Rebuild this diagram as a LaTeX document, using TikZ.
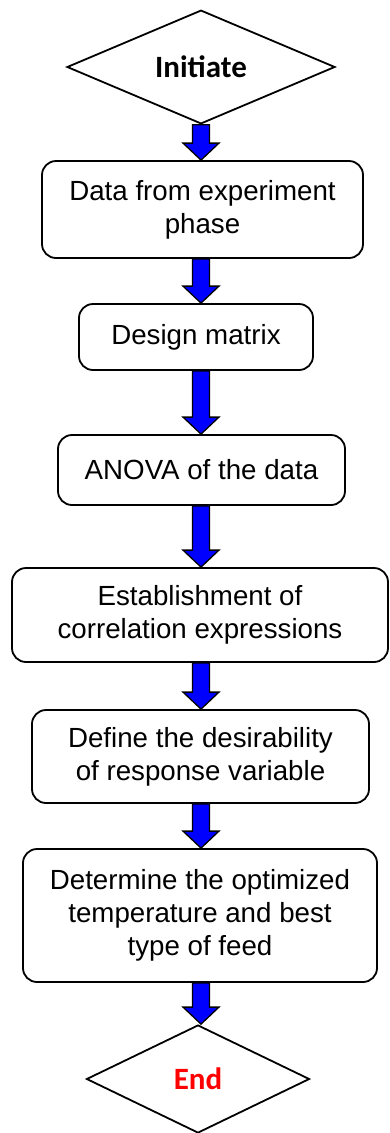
\documentclass[tikz,border=0pt]{standalone}
\usepackage{fontspec}
\setmainfont{Liberation Sans}
\newfontfamily\calib{Carlito}
\usetikzlibrary{shapes.geometric,calc}
\tikzset{
  box/.style={draw, line width=1.8pt, rounded corners=14pt, align=center,
    font=\fontsize{27.7}{33}\selectfont, inner sep=0pt},
  dia/.style={draw, diamond, line width=1.8pt, inner sep=0pt,
    font=\calib\bfseries\fontsize{31}{36}\selectfont},
  barrow/.style={fill=blue, draw=black, line width=1.3pt, line join=miter}
}
\newcommand\blockarrow[2]{%
  \draw[barrow] let \p1=(#1.south), \p2=(#2.north), \p3=(axis) in
    (\x3-8.5pt,\y1) -- (\x3+8.5pt,\y1) -- (\x3+8.5pt,\y2+17pt) --
    (\x3+18pt,\y2+17pt) -- (\x3,\y2) -- (\x3-18pt,\y2+17pt) --
    (\x3-8.5pt,\y2+17pt) -- cycle;}
\begin{document}
\begin{tikzpicture}[x=1pt,y=-1pt]
\useasboundingbox (0,0) rectangle (389,1133);
\coordinate (axis) at (201,0);
\node[dia, minimum width=268pt, minimum height=107pt] (start) at (201,67) {Initiate};
\node[box, minimum width=321pt, minimum height=97pt] (b1) at (202.5,209.5) {Data from experiment\\phase};
\node[box, minimum width=234pt, minimum height=66pt] (b2) at (196,337) {Design matrix};
\node[box, minimum width=287pt, minimum height=70pt] (b3) at (201.5,470) {ANOVA of the data};
\node[box, minimum width=376pt, minimum height=94pt] (b4) at (200,615) {Establishment of\\correlation expressions};
\node[box, minimum width=337pt, minimum height=93pt] (b5) at (200.5,756.5) {Define the desirability\\of response variable};
\node[box, minimum width=354pt, minimum height=133pt] (b6) at (200,915.5) {Determine the optimized\\temperature and best\\type of feed};
\node[dia, minimum width=223pt, minimum height=108pt, text=red] (stop) at (198,1079) {End};
\blockarrow{start}{b1}
\blockarrow{b1}{b2}
\blockarrow{b2}{b3}
\blockarrow{b3}{b4}
\blockarrow{b4}{b5}
\blockarrow{b5}{b6}
\blockarrow{b6}{stop}
\end{tikzpicture}
\end{document}
